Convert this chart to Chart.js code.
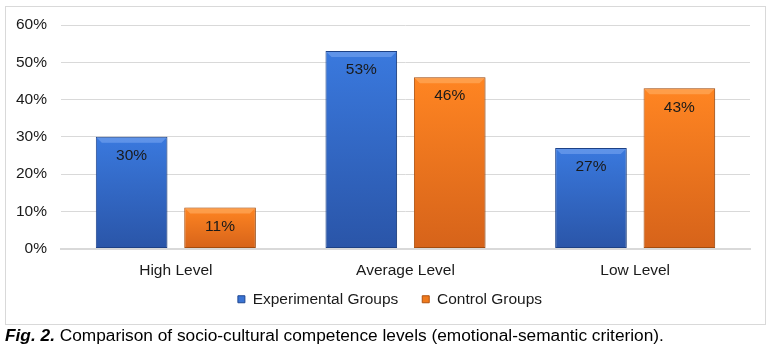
<!DOCTYPE html>
<html>
<head>
<meta charset="utf-8">
<script src="https://cdn.jsdelivr.net/npm/chart.js@4.4.0/dist/chart.umd.min.js"></script>
<style>
  html, body { margin: 0; padding: 0; background: #fff; }
  #wrap { position: relative; width: 773px; height: 347px; overflow: hidden; }
  #frame { position: absolute; left: 5px; top: 6px; width: 761px; height: 319px; border: 1px solid #d9d9d9; box-sizing: border-box; }
  canvas { position: absolute; left: 0; top: 0; }
  #caption { position: absolute; left: 5px; top: 325px; font-family: "Liberation Sans", Arial, sans-serif; font-size: 17.3px; line-height: 20px; color: #000; white-space: nowrap; }
  #caption b { font-style: italic; }
</style>
</head>
<body>
<div id="wrap">
  <div id="frame"></div>
  <canvas id="c" width="773" height="347"></canvas>
  <div id="caption"><b>Fig. 2.</b> Comparison of socio-cultural competence levels (emotional-semantic criterion).</div>
</div>
<script>
const categories = ["High Level", "Average Level", "Low Level"];
const experimentalGroups = [30, 53, 27];
const controlGroups = [11, 46, 43];
const yTicks = [0, 10, 20, 30, 40, 50, 60];

const FONT = "'Liberation Sans', Arial, sans-serif";

function barGradient(ctx, top, bottom, cTop, cBottom) {
  const g = ctx.createLinearGradient(0, top, 0, bottom);
  g.addColorStop(0, cTop);
  g.addColorStop(1, cBottom);
  return g;
}

function makeFill(cTop, cBottom) {
  return function(context) {
    const chart = context.chart;
    const area = chart.chartArea;
    if (!area || context.type !== 'data') return cTop;
    const y = chart.scales.y;
    const v = context.raw;
    return barGradient(chart.ctx, y.getPixelForValue(v), y.getPixelForValue(0), cTop, cBottom);
  };
}

const bevelPlugin = {
  id: 'bevel',
  afterDatasetsDraw(chart) {
    const ctx = chart.ctx;
    const lights = ['rgba(120,165,240,0.6)', 'rgba(255,175,100,0.6)'];
    chart.data.datasets.forEach((ds, di) => {
      const meta = chart.getDatasetMeta(di);
      meta.data.forEach((bar) => {
        const half = bar.width / 2;
        const l = bar.x - half + 1, r = bar.x + half - 1, t = bar.y + 1, h = 5;
        ctx.save();
        ctx.fillStyle = lights[di];
        ctx.beginPath();
        ctx.moveTo(l, t);
        ctx.lineTo(r, t);
        ctx.lineTo(r - h, t + h);
        ctx.lineTo(l + h, t + h);
        ctx.closePath();
        ctx.fill();
        ctx.restore();
      });
    });
  }
};

const labelPlugin = {
  id: 'valueLabels',
  afterDatasetsDraw(chart) {
    const ctx = chart.ctx;
    ctx.save();
    ctx.font = "15.5px " + FONT;
    ctx.fillStyle = '#1a1a1a';
    ctx.textAlign = 'center';
    ctx.textBaseline = 'middle';
    chart.data.datasets.forEach((ds, di) => {
      const meta = chart.getDatasetMeta(di);
      meta.data.forEach((bar, i) => {
        ctx.fillText(ds.data[i] + '%', bar.x, bar.y + 19);
      });
    });
    ctx.restore();
  }
};

const shadowPlugin = {
  id: 'barShadow',
  beforeDatasetsDraw(chart) {
    const ctx = chart.ctx;
    ctx.save();
    ctx.shadowColor = 'rgba(0,0,0,0.18)';
    ctx.shadowBlur = 4;
    ctx.shadowOffsetX = 2;
    ctx.shadowOffsetY = 0;
  },
  afterDatasetsDraw(chart) {
    chart.ctx.restore();
  }
};

const legendShift = {
  id: 'legendShift',
  afterLayout(chart) {
    if (chart.legend) {
      chart.legend.top -= 14;
      chart.legend.bottom -= 14;
      chart.legend.left += 15;
      chart.legend.right += 15;
    }
  }
};

new Chart(document.getElementById('c'), {
  type: 'bar',
  data: {
    labels: categories,
    datasets: [
      {
        label: 'Experimental Groups',
        data: experimentalGroups,
        backgroundColor: makeFill('#3a79de', '#2a55a8'),
        borderColor: '#1f4690',
        borderWidth: 1,
        borderSkipped: false,
        categoryPercentage: 0.77,
        barPercentage: 0.81
      },
      {
        label: 'Control Groups',
        data: controlGroups,
        backgroundColor: makeFill('#ff8522', '#d6631a'),
        borderColor: '#b0520f',
        borderWidth: 1,
        borderSkipped: false,
        categoryPercentage: 0.77,
        barPercentage: 0.81
      }
    ]
  },
  options: {
    responsive: false,
    animation: false,
    devicePixelRatio: 1,
    layout: { padding: { top: 25, right: 23, bottom: 16, left: 0 } },
    plugins: {
      legend: {
        position: 'bottom',
        labels: {
          font: { family: FONT, size: 15.5 },
          color: '#1a1a1a',
          boxWidth: 7,
          boxHeight: 7,
          padding: 24,
          generateLabels(chart) {
            const cols = [['#3a74d4', '#1f4690'], ['#f07a1c', '#b0520f']];
            return chart.data.datasets.map((ds, i) => ({
              text: ds.label,
              fillStyle: cols[i][0],
              strokeStyle: cols[i][1],
              lineWidth: 1,
              datasetIndex: i,
              fontColor: '#1a1a1a'
            }));
          }
        }
      },
      tooltip: { enabled: false }
    },
    scales: {
      x: {
        grid: { display: false, drawTicks: false },
        border: { color: '#d9d9d9', width: 2 },
        ticks: { font: { family: FONT, size: 15.5 }, color: '#1a1a1a', padding: 13 },
        afterFit(scale) { scale.height = 33; }
      },
      y: {
        min: 0,
        max: 60,
        afterBuildTicks(scale) { scale.ticks = yTicks.map(v => ({ value: v })); },
        grid: { color: '#d9d9d9', drawTicks: false },
        border: { display: false },
        ticks: {
          font: { family: FONT, size: 15.5 },
          color: '#1a1a1a',
          padding: 14,
          callback: (v) => v + '%'
        },
        afterFit(scale) { scale.width = 61; }
      }
    }
  },
  plugins: [shadowPlugin, bevelPlugin, labelPlugin, legendShift]
});
</script>
</body>
</html>
